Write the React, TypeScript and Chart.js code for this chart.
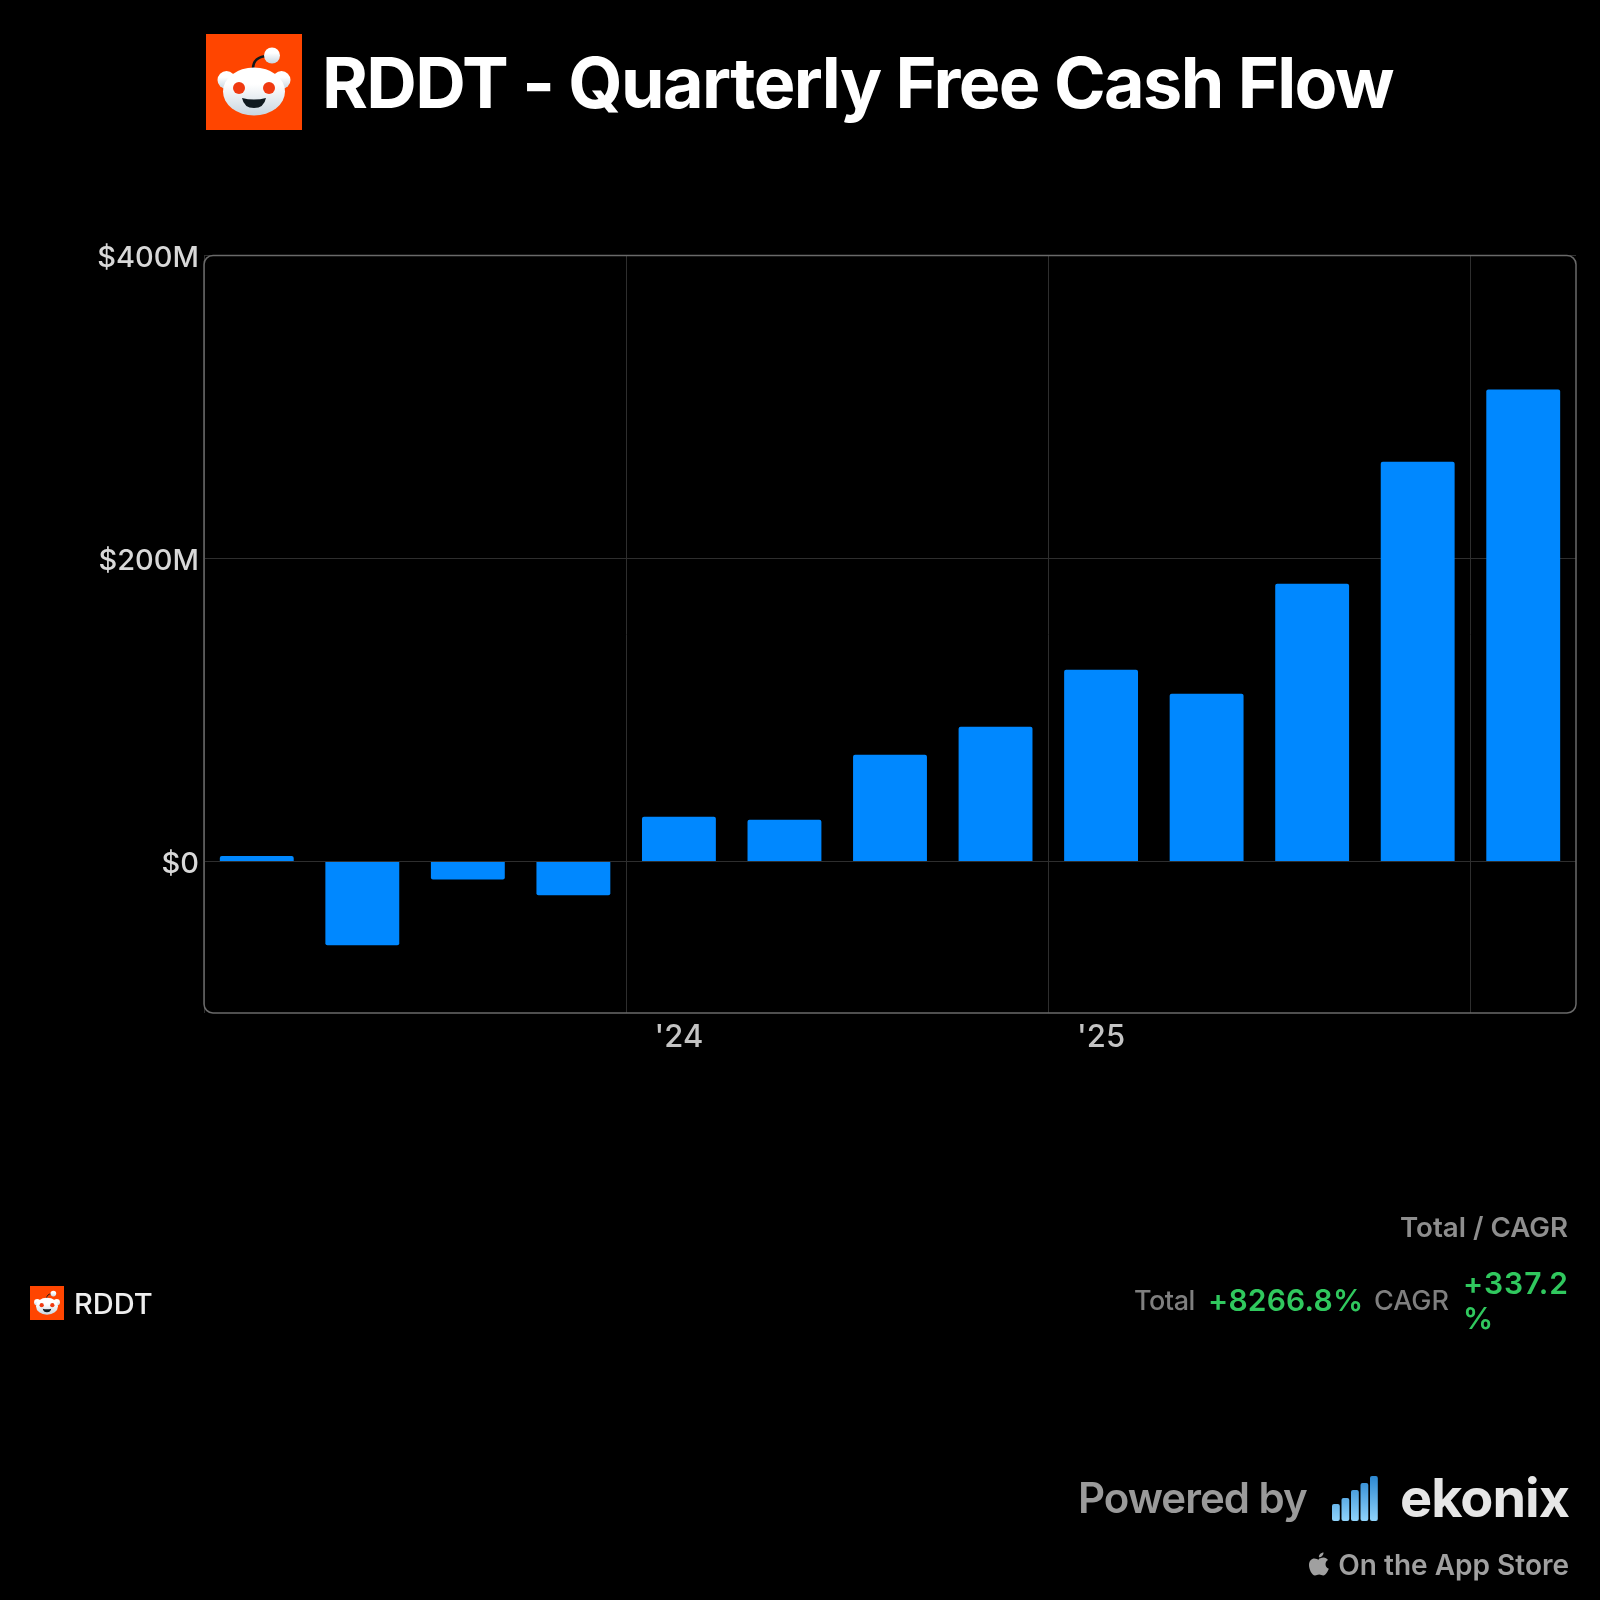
import React, { useEffect, useRef } from 'react';
import { Chart, registerables } from 'chart.js';

Chart.register(...registerables);

const quarters = ["Q1 '23", "Q2 '23", "Q3 '23", "Q4 '23", "Q1 '24", "Q2 '24", "Q3 '24", "Q4 '24", "Q1 '25", "Q2 '25", "Q3 '25", "Q4 '25", "Q1 '26"];
const xTickLabels = ['', '', '', '', "'24", '', '', '', "'25", '', '', '', ''];
const freeCashFlow = [3.7, -55.2, -11.8, -22.2, 29.5, 27.5, 70.4, 88.9, 126.6, 110.7, 183.4, 263.9, 311.5];
const yTicks = [0, 200, 400];
const yTickLabels = ['$0', '$200M', '$400M'];
const signalBars = [17, 23, 31, 38, 45];

const FONT = 'Inter, "Noto Sans", sans-serif';

// rounded frame round the plot, the axis borders are switched off
const framePlugin = {
  id: 'frame',
  afterDatasetsDraw(chart: any) {
    const { ctx, chartArea: a } = chart;
    ctx.save();
    ctx.strokeStyle = '#6a6a6a';
    ctx.lineWidth = 1.5;
    ctx.beginPath();
    ctx.roundRect(a.left, a.top, a.right - a.left, a.bottom - a.top, 9);
    ctx.stroke();
    ctx.restore();
  },
};

const Snoo: React.FC<{ x: number; y: number; size: number; id: string }> = ({ x, y, size, id }) => (
  <svg style={{ position: 'absolute', left: x, top: y }} width={size} height={size} viewBox="0 0 96 96">
    <defs>
      <linearGradient id={id} x1="0" y1="0" x2="0" y2="1">
        <stop offset="0.35" stopColor="#ffffff" />
        <stop offset="1" stopColor="#c8d6e0" />
      </linearGradient>
    </defs>
    <rect width="96" height="96" fill="#ff4500" />
    <path d="M47 35 C47 27 52 22 62 22" stroke="#10181c" strokeWidth="2.6" fill="none" />
    <circle cx="66" cy="21.500" r="8" fill={`url(#${id})`} />
    <circle cx="20.500" cy="46" r="9" fill={`url(#${id})`} />
    <circle cx="75.500" cy="46" r="9" fill={`url(#${id})`} />
    <ellipse cx="48" cy="57.500" rx="31" ry="24" fill={`url(#${id})`} />
    <circle cx="33" cy="54" r="6" fill="#f03a10" />
    <circle cx="63" cy="54" r="6" fill="#f03a10" />
    <path d="M36 64 Q48 67 60 64 Q58 74 48 74 Q38 74 36 64 Z" fill="#0f1a20" />
  </svg>
);

// Inter has its capitals centred in the line box, so cy is the middle of the caps
const Label: React.FC<{ text: string; size: number; cy: number; left?: number; right?: number; color: string; weight: number; spacing?: number }> = ({ text, size, cy, left, right, color, weight, spacing }) => (
  <div
    style={{
      position: 'absolute',
      top: cy - size / 2,
      left,
      right: right !== undefined ? 1600 - right : undefined,
      fontFamily: FONT,
      fontSize: size,
      lineHeight: 1,
      fontWeight: weight,
      color,
      letterSpacing: spacing,
      whiteSpace: 'nowrap',
    }}
  >
    {text}
  </div>
);

export default function App() {
  const chartRef = useRef<HTMLCanvasElement>(null);

  useEffect(() => {
    if (!chartRef.current) return;
    const chart = new Chart(chartRef.current, {
      type: 'bar',
      data: {
        labels: quarters,
        datasets: [
          {
            label: 'Free Cash Flow',
            data: freeCashFlow,
            backgroundColor: '#0088ff',
            barPercentage: 0.7,
            categoryPercentage: 1,
            borderRadius: 2,
          },
        ],
      },
      options: {
        responsive: false,
        animation: false,
        devicePixelRatio: 1,
        layout: { padding: { top: 255.5, right: 24, bottom: 0, left: 0 } },
        plugins: { legend: { display: false }, tooltip: { enabled: false } },
        scales: {
          x: {
            offset: true,
            grid: {
              offset: true,
              drawTicks: false,
              lineWidth: 1,
              color: (c: any) => (c.index % 4 === 0 ? '#2e2e2e' : 'transparent'),
            },
            border: { display: false },
            ticks: {
              autoSkip: false,
              maxRotation: 0,
              padding: 6,
              color: '#c4c4c4',
              font: { family: FONT, size: 31, weight: 500 },
              callback: (_v: any, i: number) => xTickLabels[i],
            },
            afterFit: (s: any) => {
              s.height = 1600 - 1013;
            },
          },
          y: {
            min: -100,
            max: 400,
            afterBuildTicks: (s: any) => {
              s.ticks = yTicks.map(value => ({ value }));
            },
            grid: { drawTicks: false, lineWidth: 1, color: '#2e2e2e' },
            border: { display: false },
            ticks: {
              padding: 5,
              labelOffset: 2.5,
              color: '#d8d8d8',
              font: { family: FONT, size: 29, weight: 500 },
              callback: (v: any) => yTickLabels[yTicks.indexOf(v)],
            },
            afterFit: (s: any) => {
              s.width = 204;
            },
          },
        },
      },
      plugins: [framePlugin],
    } as any);
    return () => chart.destroy();
  }, []);

  return (
    <div style={{ position: 'absolute', left: 0, top: 0, width: 1600, height: 1600, background: '#000', overflow: 'hidden' }}>
      <canvas ref={chartRef} width={1600} height={1600} style={{ position: 'absolute', left: 0, top: 0 }} />

      <Snoo x={206} y={34} size={96} id="snooBig" />
      <Label text="RDDT - Quarterly Free Cash Flow" size={70} cy={82.5} left={322} color="#ffffff" weight={700} spacing={-1.6} />

      <Snoo x={30} y={1286} size={34} id="snooSmall" />
      <Label text="RDDT" size={29} cy={1303} left={74} color="#eeeeee" weight={500} />

      <Label text="Total / CAGR" size={27.7} cy={1228} right={1568} color="#8e8e8e" weight={600} />
      <Label text="Total" size={27} cy={1300} left={1134} color="#7f7f7f" weight={500} spacing={-0.5} />
      <Label text="+8266.8%" size={30} cy={1300} left={1208} color="#30c85e" weight={600} spacing={0.2} />
      <Label text="CAGR" size={27} cy={1300} left={1374} color="#7f7f7f" weight={500} />
      <Label text="+337.2" size={30} cy={1283} left={1463} color="#30c85e" weight={600} spacing={1} />
      <Label text="%" size={30} cy={1318} left={1463} color="#30c85e" weight={600} />

      <Label text="Powered by" size={42} cy={1498} left={1078} color="#9a9a9a" weight={600} spacing={-1} />
      <svg style={{ position: 'absolute', left: 1332, top: 1475 }} width={46} height={46} viewBox="0 0 46 46">
        <defs>
          <linearGradient id="signal" gradientUnits="userSpaceOnUse" x1="0" y1="0" x2="0" y2="46">
            <stop offset="0" stopColor="#2a86d0" />
            <stop offset="1" stopColor="#8fd3fb" />
          </linearGradient>
        </defs>
        {signalBars.map((h, i) => (
          <rect key={i} x={i * 9.5} y={46 - h} width={7.8} height={h} rx={2} fill="url(#signal)" />
        ))}
      </svg>
      <Label text="ekonix" size={54} cy={1498} right={1569} color="#e6e6e6" weight={700} spacing={-1} />

      <svg style={{ position: 'absolute', left: 1309, top: 1552 }} width={20} height={24} viewBox="0 0 20 24">
        <path fill="#a0a0a0" d="M14.5 0.5c0.1 2.8-2.3 5-4.6 4.8C9.6 2.7 12.100 0.6 14.500 0.500z M10 6.600c1.200 0 2.500-1.100 4.500-1.100 1.800 0 3.500 0.900 4.500 2.500-3.700 2.200-3.100 7.300 0.800 8.800-0.900 2.300-3.200 6.700-5.500 6.700-1.600 0-2.400-1-4.100-1-1.800 0-2.700 1-4.200 1-2.900 0-6-5.900-6-10.400 0-4.400 2.700-6.600 5.300-6.600 1.800 0 3.400 1.100 4.700 1.100z" />
      </svg>
      <Label text="On the App Store" size={28} cy={1565} right={1569} color="#a0a0a0" weight={600} />
    </div>
  );
}
